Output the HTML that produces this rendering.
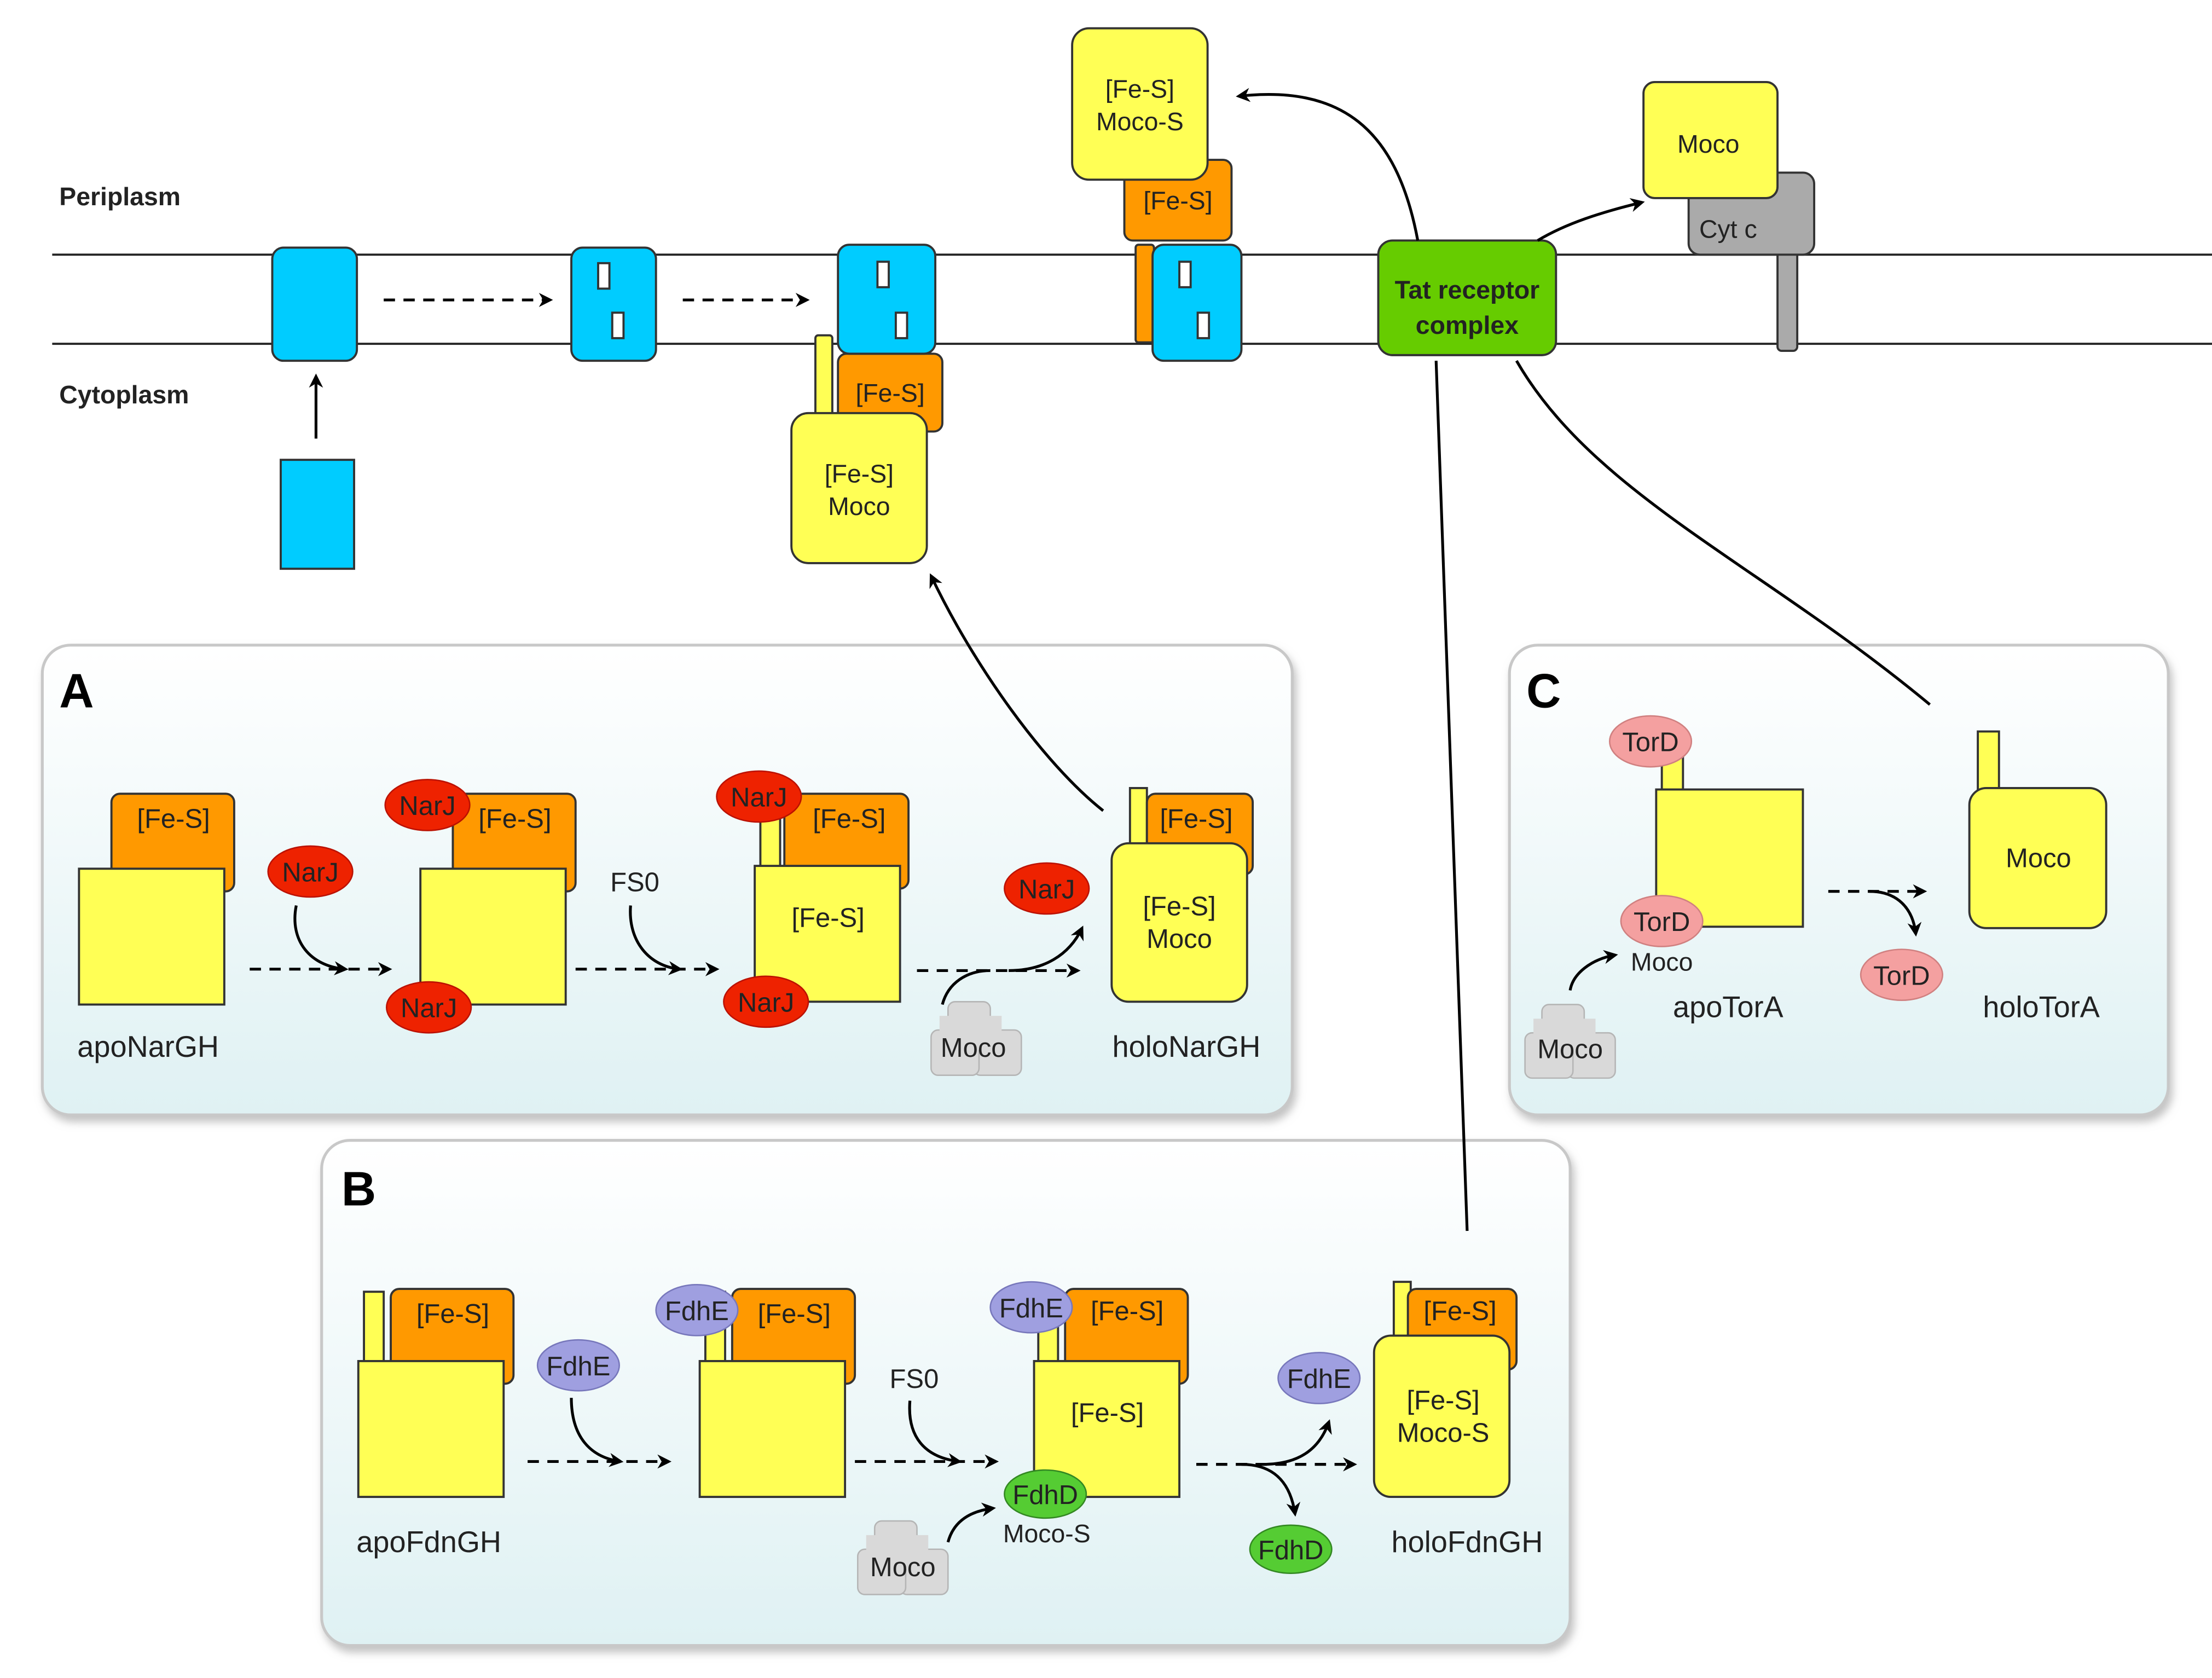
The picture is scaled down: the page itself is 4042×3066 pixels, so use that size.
<!DOCTYPE html>
<html><head><meta charset="utf-8"><style>
html,body{margin:0;padding:0;background:#fff;}
svg{display:block;}
text{font-family:"Liberation Sans",sans-serif;}
</style></head><body>
<svg width="4042" height="3066" viewBox="0 0 1568 1186" preserveAspectRatio="none" xmlns="http://www.w3.org/2000/svg">
<defs>
<linearGradient id="pg" x1="0" y1="0" x2="0" y2="1"><stop offset="0" stop-color="#ffffff"/><stop offset="1" stop-color="#dff1f3"/></linearGradient>
<marker id="ah" markerWidth="10" markerHeight="10" refX="8" refY="5" orient="auto" markerUnits="userSpaceOnUse"><path d="M0,0 L10,5 L0,10 L3,5 z" fill="#000"/></marker>
<filter id="sh" x="-5%" y="-5%" width="110%" height="115%"><feDropShadow dx="2" dy="4" stdDeviation="3" flood-color="#999" flood-opacity="0.6"/></filter>
<g id="moco"><rect x="-20" y="-30" width="30" height="30" rx="5" fill="#d9d9d9" stroke="#b5b5b5"/><rect x="-2" y="-10" width="34" height="32" rx="5" fill="#d9d9d9" stroke="#b5b5b5"/><rect x="-32" y="-10" width="34" height="32" rx="5" fill="#d9d9d9" stroke="#b5b5b5"/><rect x="-26" y="-20" width="44" height="24" fill="#d9d9d9"/></g>
</defs>
<g stroke="#222" stroke-width="1.5">
<line x1="37" y1="180" x2="1568" y2="180"/><line x1="37" y1="243" x2="1568" y2="243"/>
</g>
<text x="42" y="145" font-size="18" font-weight="bold" fill="#222">Periplasm</text>
<text x="42" y="285" font-size="18" font-weight="bold" fill="#222">Cytoplasm</text>

<g stroke="#333" stroke-width="1.5">
<rect x="193" y="175" width="60" height="80" rx="8" fill="#00ccff"/>
<rect x="405" y="175" width="60" height="80" rx="8" fill="#00ccff"/>
<rect x="424" y="186" width="8" height="18" fill="#fff"/><rect x="434" y="221" width="8" height="18" fill="#fff"/>
<rect x="199" y="325" width="52" height="77" fill="#00ccff"/>
<rect x="578" y="237" width="12" height="58" rx="2" fill="#ffff55"/>
<rect x="594" y="250" width="74" height="55" rx="6" fill="#ff9900"/>
<rect x="594" y="173" width="69" height="77" rx="8" fill="#00ccff"/>
<rect x="622" y="185" width="8" height="18" fill="#fff"/><rect x="635" y="221" width="8" height="18" fill="#fff"/>
<rect x="561" y="292" width="96" height="106" rx="12" fill="#ffff55"/>
<rect x="805" y="173" width="13" height="69" rx="2" fill="#ff9900"/>
<rect x="817" y="173" width="63" height="82" rx="8" fill="#00ccff"/>
<rect x="836" y="185" width="8" height="18" fill="#fff"/><rect x="849" y="221" width="8" height="18" fill="#fff"/>
<rect x="797" y="113" width="76" height="57" rx="6" fill="#ff9900"/>
<rect x="760" y="20" width="96" height="107" rx="12" fill="#ffff55"/>
<rect x="977" y="170" width="126" height="81" rx="10" fill="#66cc00"/>
<rect x="1260" y="176" width="14" height="72" rx="3" fill="#aaa"/>
<rect x="1197" y="122" width="89" height="58" rx="8" fill="#aaa"/>
<rect x="1165" y="58" width="95" height="82" rx="8" fill="#ffff55"/>
</g>
<g font-size="18" text-anchor="middle" fill="#222">
<text x="631" y="284">[Fe-S]</text>
<text x="609" y="341">[Fe-S]</text><text x="609" y="364">Moco</text>
<text x="835" y="148">[Fe-S]</text>
<text x="808" y="69">[Fe-S]</text><text x="808" y="92">Moco-S</text>
<text x="1040" y="211" font-weight="bold">Tat receptor</text><text x="1040" y="236" font-weight="bold">complex</text>
<text x="1211" y="108">Moco</text>
<text x="1225" y="168">Cyt c</text>
</g>
<g stroke="#000" stroke-width="2" fill="none">
<line x1="272" y1="212" x2="390" y2="212" stroke-dasharray="8,6" marker-end="url(#ah)"/>
<line x1="484" y1="212" x2="572" y2="212" stroke-dasharray="8,6" marker-end="url(#ah)"/>
<line x1="224" y1="310" x2="224" y2="266" marker-end="url(#ah)"/>
<path d="M1005,170 C990,90 950,60 878,68" marker-end="url(#ah)"/>
<path d="M1090,170 C1110,158 1135,150 1164,143" marker-end="url(#ah)"/>
</g>

<rect x="30" y="456" width="886" height="332" rx="20" fill="url(#pg)" stroke="#c8c8c8" stroke-width="2" filter="url(#sh)"/>
<text x="42" y="500" font-size="34" font-weight="bold">A</text>
<rect x="1070" y="456" width="467" height="332" rx="20" fill="url(#pg)" stroke="#c8c8c8" stroke-width="2" filter="url(#sh)"/>
<text x="1082" y="500" font-size="34" font-weight="bold">C</text>
<rect x="228" y="806" width="885" height="357" rx="20" fill="url(#pg)" stroke="#c8c8c8" stroke-width="2" filter="url(#sh)"/>
<text x="242" y="852" font-size="34" font-weight="bold">B</text>

<g stroke="#333" stroke-width="1.5">
<rect x="79" y="561" width="87" height="69" rx="6" fill="#ff9900"/>
<rect x="56" y="614" width="103" height="96" fill="#ffff55"/>
<rect x="321" y="561" width="87" height="69" rx="6" fill="#ff9900"/>
<rect x="298" y="614" width="103" height="96" fill="#ffff55"/>
<rect x="539" y="573" width="14" height="41" fill="#ffff55"/>
<rect x="556" y="561" width="88" height="67" rx="6" fill="#ff9900"/>
<rect x="535" y="612" width="103" height="96" fill="#ffff55"/>
<rect x="801" y="557" width="12" height="43" fill="#ffff55"/>
<rect x="813" y="561" width="75" height="57" rx="6" fill="#ff9900"/>
<rect x="788" y="596" width="96" height="112" rx="12" fill="#ffff55"/>
</g>
<g fill="#ee2200" stroke="#bb1100" stroke-width="1">
<ellipse cx="220" cy="616" rx="30" ry="18"/><ellipse cx="303" cy="569" rx="30" ry="18"/><ellipse cx="304" cy="712" rx="30" ry="18"/>
<ellipse cx="538" cy="563" rx="30" ry="18"/><ellipse cx="543" cy="708" rx="30" ry="18"/><ellipse cx="742" cy="628" rx="30" ry="18"/>
</g>
<use href="#moco" x="692" y="738"/>
<g font-size="19" text-anchor="middle" fill="#222">
<text x="123" y="585">[Fe-S]</text><text x="365" y="585">[Fe-S]</text><text x="602" y="585">[Fe-S]</text><text x="587" y="655">[Fe-S]</text>
<text x="848" y="585">[Fe-S]</text><text x="836" y="647">[Fe-S]</text><text x="836" y="670">Moco</text>
<text x="220" y="623">NarJ</text><text x="303" y="576">NarJ</text><text x="304" y="719">NarJ</text><text x="538" y="570">NarJ</text><text x="543" y="715">NarJ</text><text x="742" y="635">NarJ</text>
<text x="450" y="630">FS0</text><text x="690" y="747">Moco</text>
<text x="105" y="747" font-size="21">apoNarGH</text><text x="841" y="747" font-size="21">holoNarGH</text>
</g>
<g stroke="#000" stroke-width="2" fill="none">
<line x1="177" y1="685" x2="276" y2="685" stroke-dasharray="8,6" marker-end="url(#ah)"/>
<path d="M210,640 C205,665 220,683 245,685" marker-end="url(#ah)"/>
<line x1="408" y1="685" x2="508" y2="685" stroke-dasharray="8,6" marker-end="url(#ah)"/>
<path d="M447,640 C445,665 460,683 482,685" marker-end="url(#ah)"/>
<line x1="650" y1="686" x2="764" y2="686" stroke-dasharray="8,6" marker-end="url(#ah)"/>
<path d="M668,710 C672,695 685,686 702,686"/>
<path d="M715,686 C740,686 758,675 767,656" marker-end="url(#ah)"/>
</g>

<g stroke="#333" stroke-width="1.5">
<rect x="258" y="913" width="14" height="52" fill="#ffff55"/>
<rect x="277" y="911" width="87" height="67" rx="6" fill="#ff9900"/>
<rect x="254" y="962" width="103" height="96" fill="#ffff55"/>
<rect x="500" y="913" width="14" height="52" fill="#ffff55"/>
<rect x="519" y="911" width="87" height="67" rx="6" fill="#ff9900"/>
<rect x="496" y="962" width="103" height="96" fill="#ffff55"/>
<rect x="736" y="913" width="14" height="52" fill="#ffff55"/>
<rect x="755" y="911" width="87" height="67" rx="6" fill="#ff9900"/>
<rect x="733" y="962" width="103" height="96" fill="#ffff55"/>
<rect x="988" y="906" width="12" height="42" fill="#ffff55"/>
<rect x="998" y="911" width="77" height="57" rx="6" fill="#ff9900"/>
<rect x="974" y="944" width="96" height="114" rx="12" fill="#ffff55"/>
</g>
<g fill="#9f9fe0" stroke="#7777bb" stroke-width="1">
<ellipse cx="410" cy="965" rx="29" ry="18"/><ellipse cx="494" cy="926" rx="29" ry="18"/><ellipse cx="731" cy="924" rx="29" ry="18"/><ellipse cx="935" cy="974" rx="29" ry="18"/>
</g>
<g fill="#55cc33" stroke="#338822" stroke-width="1">
<ellipse cx="741" cy="1056" rx="29" ry="17"/><ellipse cx="915" cy="1095" rx="29" ry="17"/>
</g>
<use href="#moco" x="640" y="1105"/>
<g font-size="19" text-anchor="middle" fill="#222">
<text x="321" y="935">[Fe-S]</text><text x="563" y="935">[Fe-S]</text><text x="799" y="933">[Fe-S]</text><text x="785" y="1005">[Fe-S]</text>
<text x="1035" y="933">[Fe-S]</text><text x="1023" y="996">[Fe-S]</text><text x="1023" y="1019">Moco-S</text>
<text x="410" y="972">FdhE</text><text x="494" y="933">FdhE</text><text x="731" y="931">FdhE</text><text x="935" y="981">FdhE</text>
<text x="741" y="1063">FdhD</text><text x="915" y="1102">FdhD</text>
<text x="742" y="1090" font-size="18">Moco-S</text>
<text x="648" y="981">FS0</text><text x="640" y="1114">Moco</text>
<text x="304" y="1097" font-size="21">apoFdnGH</text><text x="1040" y="1097" font-size="21">holoFdnGH</text>
</g>
<g stroke="#000" stroke-width="2" fill="none">
<line x1="374" y1="1033" x2="474" y2="1033" stroke-dasharray="8,6" marker-end="url(#ah)"/>
<path d="M405,988 C405,1015 418,1030 440,1033" marker-end="url(#ah)"/>
<line x1="606" y1="1033" x2="706" y2="1033" stroke-dasharray="8,6" marker-end="url(#ah)"/>
<path d="M645,990 C643,1015 655,1030 680,1033" marker-end="url(#ah)"/>
<path d="M672,1090 C676,1075 688,1068 704,1066" marker-end="url(#ah)"/>
<line x1="848" y1="1035" x2="960" y2="1035" stroke-dasharray="8,6" marker-end="url(#ah)"/>
<path d="M880,1035 C905,1035 915,1050 918,1070" marker-end="url(#ah)"/>
<path d="M895,1035 C920,1035 935,1025 942,1005" marker-end="url(#ah)"/>
</g>

<g stroke="#333" stroke-width="1.5">
<rect x="1178" y="535" width="15" height="25" fill="#ffff55"/>
<rect x="1174" y="558" width="104" height="97" fill="#ffff55"/>
<rect x="1402" y="517" width="15" height="45" fill="#ffff55"/>
<rect x="1396" y="557" width="97" height="99" rx="12" fill="#ffff55"/>
</g>
<g fill="#f4a0a0" stroke="#d08080" stroke-width="1">
<ellipse cx="1170" cy="524" rx="29" ry="18"/><ellipse cx="1178" cy="651" rx="29" ry="18"/><ellipse cx="1348" cy="689" rx="29" ry="18"/>
</g>
<use href="#moco" x="1113" y="740"/>
<g font-size="19" text-anchor="middle" fill="#222">
<text x="1170" y="531">TorD</text><text x="1178" y="658">TorD</text><text x="1348" y="696">TorD</text>
<text x="1178" y="686" font-size="18">Moco</text><text x="1445" y="613">Moco</text><text x="1113" y="748">Moco</text>
<text x="1225" y="719" font-size="21">apoTorA</text><text x="1447" y="719" font-size="21">holoTorA</text>
</g>
<g stroke="#000" stroke-width="2" fill="none">
<line x1="1296" y1="630" x2="1364" y2="630" stroke-dasharray="8,6" marker-end="url(#ah)"/>
<path d="M1325,630 C1345,630 1356,642 1358,660" marker-end="url(#ah)"/>
<path d="M1113,700 C1115,688 1128,678 1145,675" marker-end="url(#ah)"/>
</g>

<g stroke="#000" stroke-width="2" fill="none">
<path d="M1018,255 L1040,870"/>
<path d="M1075,255 C1130,350 1250,400 1368,498"/>
<path d="M782,573 C740,540 690,470 660,407" marker-end="url(#ah)"/>
</g>
</svg>
</body></html>
